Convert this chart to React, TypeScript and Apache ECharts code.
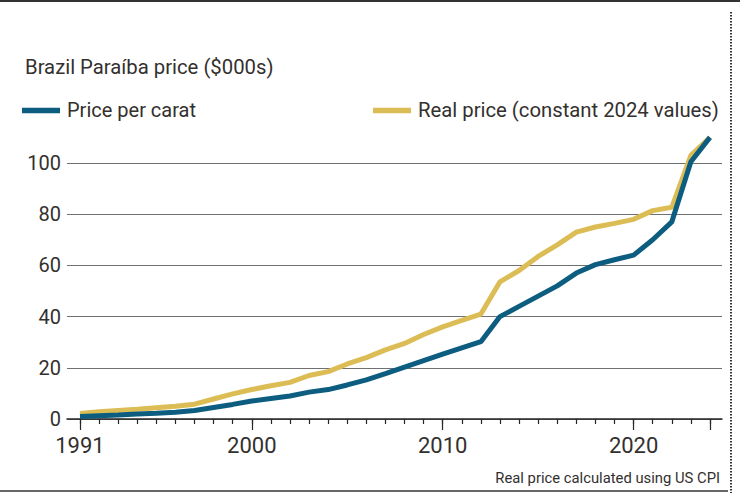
import React, { useEffect, useRef } from "react";
import * as echarts from "echarts";

const years: number[] = [
  1991, 1992, 1993, 1994, 1995, 1996, 1997, 1998, 1999, 2000, 2001, 2002,
  2003, 2004, 2005, 2006, 2007, 2008, 2009, 2010, 2011, 2012, 2013, 2014,
  2015, 2016, 2017, 2018, 2019, 2020, 2021, 2022, 2023, 2024,
];

const pricePerCarat: number[] = [
  1, 1.3, 1.6, 2, 2.2, 2.6, 3.3, 4.5, 5.7, 7, 8, 9, 10.5, 11.5, 13.3, 15.3,
  17.7, 20.3, 22.8, 25.3, 27.8, 30.2, 40, 44, 48, 52, 57, 60.3, 62.2, 64, 70,
  77, 100.5, 110,
];

const realPrice: number[] = [
  2.2, 2.8, 3.3, 3.8, 4.4, 5, 5.8, 7.8, 9.8, 11.5, 13, 14.3, 17, 18.5, 21.5,
  24, 27, 29.5, 33, 36, 38.5, 41, 53.6, 58, 63.5, 68, 73, 75, 76.4, 78, 81.4,
  82.7, 103, 110,
];

const majorYears: number[] = [1991, 2000, 2010, 2020, 2024];
const labelYears: number[] = [1991, 2000, 2010, 2020];
const yTicks: number[] = [0, 20, 40, 60, 80, 100];

const titleText = "Brazil Paraíba price ($000s)";
const legendBlue = "Price per carat";
const legendGold = "Real price (constant 2024 values)";
const footnote = "Real price calculated using US CPI";

const BLUE = "#0d5d80";
const GOLD = "#dcbd55";
const INK = "#33302e";
const FONT = "Roboto";

export default function App() {
  const ref = useRef<HTMLDivElement>(null);

  useEffect(() => {
    if (!ref.current) return;
    const chart = echarts.init(ref.current, null, { renderer: "svg" });
    const blueData = years.map((y, i) => [y, pricePerCarat[i]]);
    const goldData = years.map((y, i) => [y, realPrice[i]]);

    chart.setOption({
      animation: false,
      backgroundColor: "#ffffff",
      textStyle: { fontFamily: FONT },
      grid: { left: 67, right: 18, top: 163, bottom: 74, containLabel: false },
      xAxis: [
        {
          type: "value",
          min: 1990.32,
          max: 2024.63,
          position: "bottom",
          axisLine: { show: true, lineStyle: { color: "#262626", width: 1.5 } },
          axisTick: {
            show: true,
            length: 5,
            customValues: years,
            lineStyle: { color: "#262626", width: 1.2 },
          },
          axisLabel: { show: false },
          splitLine: { show: false },
        },
        {
          type: "value",
          min: 1990.32,
          max: 2024.63,
          position: "bottom",
          offset: 0,
          axisLine: { show: false },
          axisTick: {
            show: true,
            length: 11,
            customValues: majorYears,
            lineStyle: { color: "#262626", width: 1.2 },
          },
          axisLabel: {
            show: true,
            customValues: labelYears,
            fontSize: 22,
            color: INK,
            fontFamily: FONT,
            margin: 15,
            formatter: (v: number) => String(Math.round(v)),
          },
          splitLine: { show: false },
        },
      ],
      yAxis: {
        type: "value",
        min: 0,
        max: 100,
        interval: 20,
        axisLine: { show: false },
        axisTick: { show: false },
        axisLabel: {
          fontSize: 20,
          color: INK,
          fontFamily: FONT,
          margin: 6,
          customValues: yTicks,
        },
        splitLine: { show: true, lineStyle: { color: "#707070", width: 1.2 } },
      },
      series: [
        {
          name: legendGold,
          type: "line",
          data: goldData,
          showSymbol: false,
          clip: false,
          lineStyle: { color: GOLD, width: 5 },
          itemStyle: { color: GOLD },
          z: 3,
        },
        {
          name: legendBlue,
          type: "line",
          data: blueData,
          showSymbol: false,
          clip: false,
          lineStyle: { color: BLUE, width: 5 },
          itemStyle: { color: BLUE },
          z: 4,
        },
      ],
      graphic: [
        {
          type: "line",
          shape: { x1: 0, y1: 1, x2: 740, y2: 1 },
          style: { stroke: "#333333", lineWidth: 2 },
        },
        {
          type: "line",
          shape: { x1: 0, y1: 491, x2: 728, y2: 491 },
          style: { stroke: "#333333", lineWidth: 1.5 },
        },
        {
          type: "line",
          shape: { x1: 731, y1: 12, x2: 731, y2: 493 },
          style: { stroke: "#333333", lineWidth: 2, lineDash: [1.5, 1.5] },
        },
        {
          type: "text",
          x: 25,
          y: 67,
          style: {
            text: titleText,
            fill: INK,
            font: `20.3px ${FONT}`,
            align: "left",
            verticalAlign: "middle",
          },
        },
        {
          type: "line",
          shape: { x1: 22, y1: 110.5, x2: 60, y2: 110.5 },
          style: { stroke: BLUE, lineWidth: 5.5 },
        },
        {
          type: "text",
          x: 67,
          y: 110,
          style: {
            text: legendBlue,
            fill: INK,
            font: `20px ${FONT}`,
            align: "left",
            verticalAlign: "middle",
          },
        },
        {
          type: "line",
          shape: { x1: 373, y1: 110.5, x2: 411, y2: 110.5 },
          style: { stroke: GOLD, lineWidth: 5.5 },
        },
        {
          type: "text",
          x: 418,
          y: 110,
          style: {
            text: legendGold,
            fill: INK,
            font: `20.3px ${FONT}`,
            align: "left",
            verticalAlign: "middle",
          },
        },
        {
          type: "text",
          x: 720,
          y: 478,
          style: {
            text: footnote,
            fill: INK,
            font: `14.8px ${FONT}`,
            align: "right",
            verticalAlign: "middle",
          },
        },
      ],
    });

    return () => {
      chart.dispose();
    };
  }, []);

  return (
    <div
      ref={ref}
      style={{ position: "fixed", left: 0, top: 0, width: 740, height: 493 }}
    />
  );
}
